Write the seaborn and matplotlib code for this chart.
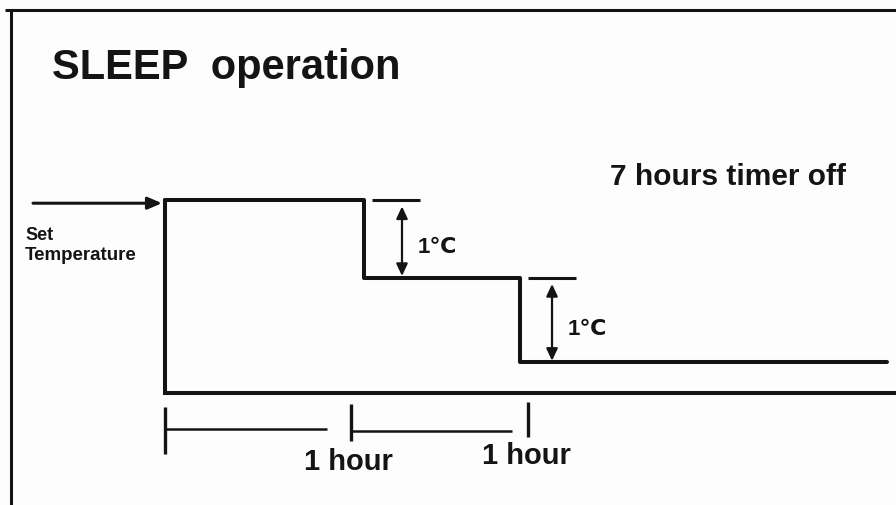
import matplotlib
matplotlib.use("Agg")
import matplotlib.pyplot as plt
import seaborn as sns
import pandas as pd

sns.set_theme(style="white")
plt.rcParams['font.family'] = ['Liberation Sans', 'DejaVu Sans', 'Noto Sans CJK SC']

# ---- data (schematic sleep-mode temperature profile) ----
step_hours = [0.0, 1.0, 1.786, 3.637]        # time (h) at which each level starts / end of drawing
step_temps = [0.0, -0.97, -2.03, -2.03]      # offset from set temperature (deg C), as drawn
baseline_temp = -2.41                        # off level (timer off)
baseline_end = 3.69
hour_marks = [0.0, 0.937, 1.829]             # dimension marks under the chart
hour_labels = ["1 hour", "1 hour"]
title = "SLEEP  operation"
timer_label = "7 hours timer off"
set_label = ["Set", "Temperature"]
delta_label = "1\u2103"

INK = "#141414"

# pixel -> data helpers for layout (x: 198.5 px per hour, y: 80 px per deg)
def X(px):
    return (px - 165) / 198.5

def Y(py):
    return (201 - py) / 80.0

fig = plt.figure(figsize=(8.96, 5.06), dpi=100)
fig.patch.set_facecolor("#fdfdfd")
ax = fig.add_axes([0, 0, 1, 1])
ax.set_facecolor("#fdfdfd")
ax.set_xlim(X(0), X(896))
ax.set_ylim(Y(506), Y(0))
ax.axis("off")

# frame (top and left border)
ax.plot([5 / 896, 1.0], [1 - 11 / 506, 1 - 11 / 506], transform=ax.transAxes, color=INK, lw=2.2, solid_capstyle="butt")
ax.plot([11 / 896, 11 / 896], [1 - 11 / 506, 0], transform=ax.transAxes, color=INK, lw=2.2, solid_capstyle="butt")

# step profile
df = pd.DataFrame({"hours": step_hours, "temp": step_temps})
sns.lineplot(data=df, x="hours", y="temp", drawstyle="steps-post", sort=False,
             color=INK, lw=2.9, ax=ax, legend=False)
# start vertical and off baseline
ax.plot([step_hours[0], step_hours[0], baseline_end], [step_temps[0], baseline_temp, baseline_temp],
        color=INK, lw=2.9, solid_joinstyle="miter")

# set temperature arrow
ax.annotate("", xy=(X(162), step_temps[0] - 0.04), xytext=(X(33), step_temps[0] - 0.04),
            arrowprops=dict(arrowstyle="-|>,head_length=0.7,head_width=0.3", color=INK, lw=2.2,
                            shrinkA=0, shrinkB=0))
ax.text(X(25), Y(240), set_label[0], fontsize=13, fontweight="bold", color=INK, ha="left", va="baseline")
ax.text(X(25), Y(260), set_label[1], fontsize=13.5, fontweight="bold", color=INK, ha="left", va="baseline")

# 1 deg markers
arrow_off = [38.5, 32.5]
for i in range(2):
    hi, lo = step_temps[i], step_temps[i + 1]
    x_step = step_hours[i + 1]
    ax.plot([x_step + X(372) - X(363.5), x_step + X(420) - X(363.5)], [hi, hi],
            color=INK, lw=2.2, solid_capstyle="butt")
    xa = x_step + arrow_off[i] / 198.5
    ax.annotate("", xy=(xa, lo + 0.02), xytext=(xa, hi - 0.08),
                arrowprops=dict(arrowstyle="<|-|>,head_length=0.6,head_width=0.28", color=INK, lw=1.6,
                                shrinkA=0, shrinkB=0))
    ax.text(xa + 16 / 198.5, (hi + lo) / 2 - 0.17, delta_label, fontsize=16, fontweight="bold",
            color=INK, ha="left", va="baseline")

# timer off label
ax.text(X(728), Y(185), timer_label, fontsize=21.5, fontweight="bold", color=INK, ha="center", va="baseline")

# title
ax.text(X(52), Y(79), title, fontsize=30, color=INK, ha="left", va="baseline", fontweight="bold")

# hour dimension marks
tick_spans = [(408, 455), (405, 442), (403, 438)]
for hm, (ya, yb) in zip(hour_marks, tick_spans):
    ax.plot([hm, hm], [Y(ya), Y(yb)], color=INK, lw=2.4, solid_capstyle="butt")
seg_y = [430, 432]
seg_end = [327, 512]
for j in range(2):
    ax.plot([hour_marks[j], X(seg_end[j])], [Y(seg_y[j]), Y(seg_y[j])], color=INK, lw=1.8, solid_capstyle="butt")
label_pos = [(348, 470), (526, 464)]
for lab, (lx, ly) in zip(hour_labels, label_pos):
    ax.text(X(lx), Y(ly), lab, fontsize=21, fontweight="bold", color=INK, ha="center", va="baseline")

fig.savefig("out.png", dpi=100, facecolor=fig.get_facecolor())
